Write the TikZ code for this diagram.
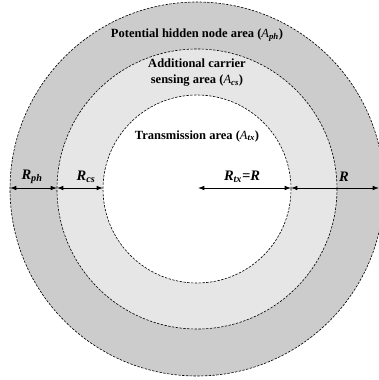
\documentclass[tikz,border=0pt]{standalone}
\usepackage{fontspec}
\setmainfont{Liberation Serif}
\usepackage{xcolor}
\usetikzlibrary{positioning, arrows.meta}
\definecolor{outergray}{HTML}{CCCCCC}
\definecolor{innergray}{HTML}{E6E6E6}

\begin{document}
\begin{tikzpicture}[x=1pt, y=-1pt,
  ring/.style={draw=black, dash pattern=on 2.4pt off 1.4pt, line width=0.6pt},
  arealabel/.style={font=\bfseries\fontsize{12.5}{16}\selectfont, align=center, inner sep=0pt},
  radlabel/.style={font=\bfseries\itshape\fontsize{14.5}{16}\selectfont, inner sep=0pt},
  arrow/.style={{Latex[length=2.2mm,width=1.6mm]}-{Latex[length=2.2mm,width=1.6mm]}, line width=0.9pt, black}
]
  \useasboundingbox (0,0) rectangle (379,380);
  \coordinate (c) at (197,189);
  % the three areas
  \fill[outergray] (c) circle[radius=187pt];
  \fill[innergray] (c) circle[radius=140pt];
  \fill[white] (c) circle[radius=94pt];
  \draw[ring] (c) circle[radius=187pt];
  \draw[ring] (c) circle[radius=140pt];
  \draw[ring] (c) circle[radius=94pt];

  \node[arealabel] (aph) at (197,35) {Potential hidden node area (\textit{\mdseries A}\textsubscript{\textit{ph}})};
  \node[arealabel] (acs) at (197,73) {Additional carrier\\sensing area (\textit{\mdseries A}\textsubscript{\textit{cs}})};
  \node[arealabel] (atx) at (197,136) {Transmission area (\textit{\mdseries A}\textsubscript{\textit{tx}})};

  % arrow end points
  \coordinate (p0) at (10,188);
  \coordinate (p1) at (57,188);
  \coordinate (p2) at (103,188);
  \coordinate (p3) at (198,188);
  \coordinate (p4) at (291,188);
  \coordinate (p5) at (379,188);
  \draw[arrow] (p0) -- (p1);
  \draw[arrow] (p1) -- (p2);
  \draw[arrow] (p3) -- (p4);
  \draw[arrow] (p4) -- (p5);

  \node[radlabel] (rph) at (32,177) {R\textsubscript{ph}};
  \node[radlabel] (rcs) at (86,177) {R\textsubscript{cs}};
  \node[radlabel] (rtx) at (242,177) {R\textsubscript{tx}=R};
  \node[radlabel] (r) at (344,177) {R};
\end{tikzpicture}
\end{document}
